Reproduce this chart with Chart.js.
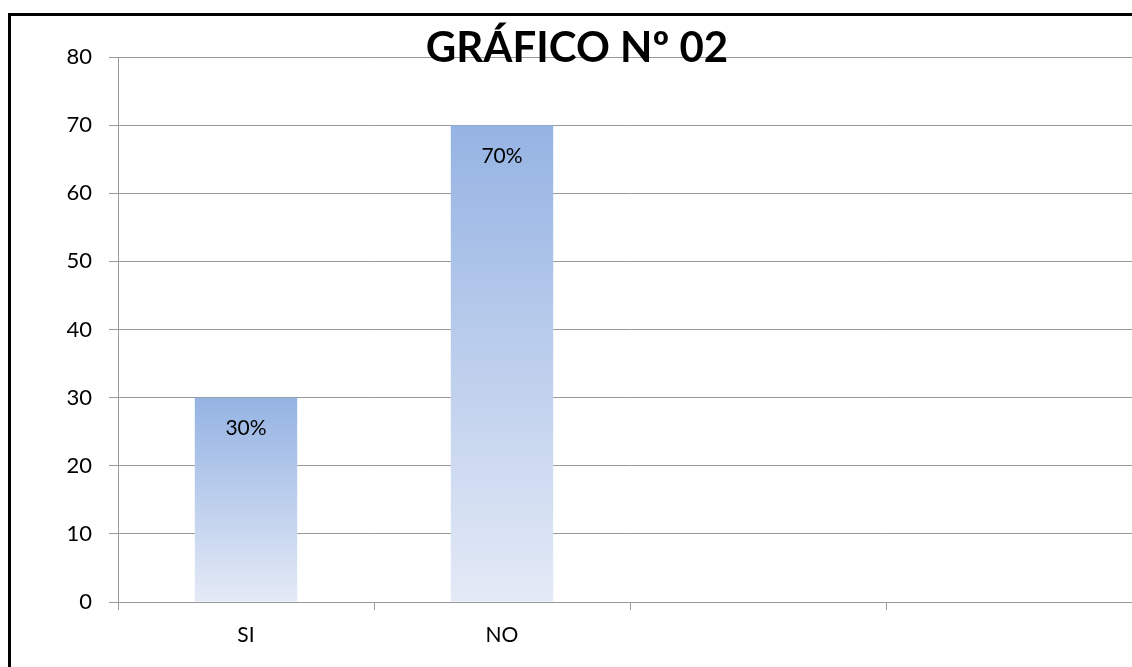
<!DOCTYPE html>
<html>
<head>
<meta charset="utf-8">
<script src="https://cdn.jsdelivr.net/npm/chart.js@4/dist/chart.umd.min.js"></script>
<style>
  html, body { margin: 0; padding: 0; background: #fff; overflow: hidden; width: 1132px; height: 667px; }
  #frame {
    position: absolute; left: 8px; top: 13px;
    border-left: 3px solid #000; border-top: 3px solid #000;
    width: 1121px; height: 651px; overflow: hidden;
  }
  #chart { display: block; }
</style>
</head>
<body>
<div id="frame"><canvas id="chart" width="1131" height="651"></canvas></div>
<script>
const categories = ['SI', 'NO', '', ''];
const values = [30, 70, null, null];
const valueLabels = ['30%', '70%', '', ''];
const chartTitle = 'GRÁFICO Nº 02';

const FONT = "Lato, 'Open Sans', sans-serif";

const barFill = (ctx) => {
    const chart = ctx.chart;
    const area = chart.chartArea;
    if (!area || ctx.raw == null) return '#9ab5e3';
    const y = chart.scales.y;
    const top = y.getPixelForValue(ctx.raw);
    const base = y.getPixelForValue(0);
    const g = chart.ctx.createLinearGradient(0, top, 0, base);
    g.addColorStop(0, '#95b3e3');
    g.addColorStop(1, '#e4eaf6');
    return g;
};

const extras = {
    id: 'extras',
    afterDatasetsDraw(chart) {
        const c = chart.ctx;
        c.save();
        c.fillStyle = '#000';
        c.textAlign = 'center';
        c.textBaseline = 'middle';
        c.font = '21px ' + FONT;
        chart.getDatasetMeta(0).data.forEach((bar, i) => {
            if (values[i] == null) return;
            c.fillText(valueLabels[i], bar.x, bar.y + 31);
        });
        c.font = 'bold 42px ' + FONT;
        c.fillText(chartTitle, 566, 32);
        c.restore();
    }
};

new Chart(document.getElementById('chart'), {
    type: 'bar',
    data: {
        labels: categories,
        datasets: [{
            data: values,
            backgroundColor: barFill,
            borderWidth: 0,
            categoryPercentage: 1,
            barPercentage: 0.4
        }]
    },
    options: {
        responsive: false,
        animation: false,
        layout: { padding: { top: 41, left: 0, right: 0, bottom: 0 } },
        plugins: { legend: { display: false }, tooltip: { enabled: false }, title: { display: false } },
        scales: {
            x: {
                offset: true,
                grid: { offset: true, drawOnChartArea: false, color: '#999', tickLength: 8 },
                border: { color: '#999' },
                ticks: { color: '#000', font: { family: FONT, size: 21 }, padding: 13 },
                afterFit: (s) => { s.height = 65; }
            },
            y: {
                min: 0, max: 80,
                ticks: { stepSize: 10, color: '#000', font: { family: FONT, size: 22 }, padding: 17 },
                grid: { color: '#999', tickLength: 9 },
                border: { color: '#999' },
                afterFit: (s) => { s.width = 107; }
            }
        }
    },
    plugins: [extras]
});
</script>
</body>
</html>
